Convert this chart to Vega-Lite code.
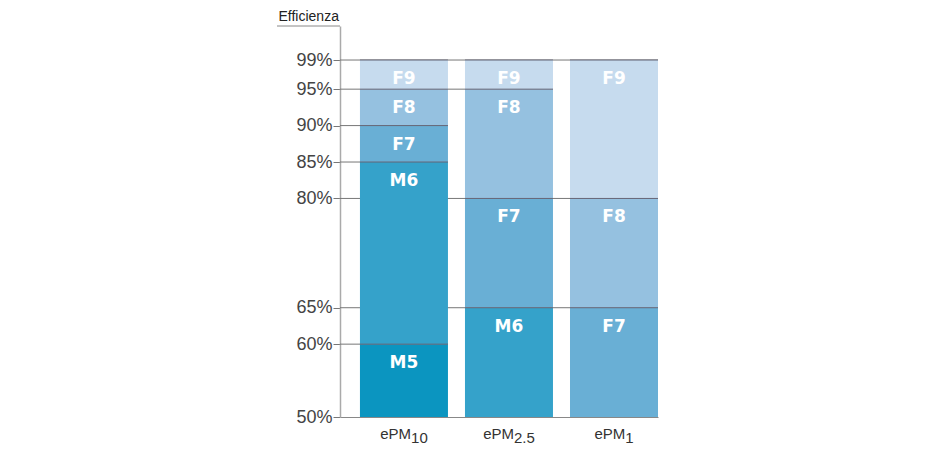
{
  "$schema": "https://vega.github.io/schema/vega-lite/v6.json",
  "autosize": "none",
  "padding": {"left": 340, "top": 26, "right": 292, "bottom": 33},
  "width": 318,
  "height": 391,
  "background": "white",
  "config": {"view": {"stroke": null}, "font": "Liberation Sans"},
  "datasets": {
    "segments": [
      {"filter": "ePM10", "cls": "M5", "lo": 50, "hi": 60},
      {"filter": "ePM10", "cls": "M6", "lo": 60, "hi": 85},
      {"filter": "ePM10", "cls": "F7", "lo": 85, "hi": 90},
      {"filter": "ePM10", "cls": "F8", "lo": 90, "hi": 95},
      {"filter": "ePM10", "cls": "F9", "lo": 95, "hi": 99},
      {"filter": "ePM2.5", "cls": "M6", "lo": 50, "hi": 65},
      {"filter": "ePM2.5", "cls": "F7", "lo": 65, "hi": 80},
      {"filter": "ePM2.5", "cls": "F8", "lo": 80, "hi": 95},
      {"filter": "ePM2.5", "cls": "F9", "lo": 95, "hi": 99},
      {"filter": "ePM1", "cls": "F7", "lo": 50, "hi": 65},
      {"filter": "ePM1", "cls": "F8", "lo": 65, "hi": 80},
      {"filter": "ePM1", "cls": "F9", "lo": 80, "hi": 99}
    ],
    "levels": [
      {"v": 99, "to": "ePM1"},
      {"v": 95, "to": "ePM2.5"},
      {"v": 90, "to": "ePM10"},
      {"v": 85, "to": "ePM10"},
      {"v": 80, "to": "ePM1"},
      {"v": 65, "to": "ePM1"},
      {"v": 60, "to": "ePM10"}
    ],
    "names": [
      {"filter": "ePM10", "main": "ePM", "sub": "10"},
      {"filter": "ePM2.5", "main": "ePM", "sub": "2.5"},
      {"filter": "ePM1", "main": "ePM", "sub": "1"}
    ],
    "title": [{"top": 103.67}]
  },
  "layer": [
    {
      "data": {"name": "levels"},
      "mark": {"type": "rule", "color": "#777", "strokeWidth": 1},
      "encoding": {
        "x": {"field": "to", "type": "nominal", "bandPosition": 1},
        "x2": {"value": 0},
        "y": {"field": "v", "type": "quantitative"}
      }
    },
    {
      "data": {"name": "segments"},
      "mark": {"type": "bar"},
      "encoding": {
        "x": {
          "field": "filter", "type": "nominal",
          "scale": {"domain": ["ePM10", "ePM2.5", "ePM1"], "paddingInner": 0.162, "paddingOuter": 0.095, "align": 1},
          "axis": {"title": null, "ticks": false, "labels": false, "domainColor": "#888", "domainWidth": 1.2}
        },
        "y": {
          "field": "lo", "type": "quantitative",
          "scale": {"domain": [50, 103.67], "nice": false, "zero": false},
          "axis": {
            "values": [50, 60, 65, 80, 85, 90, 95, 99],
            "labelExpr": "datum.value + '%'",
            "grid": false,
            "title": "Efficienza",
            "titleAngle": 0, "titleAlign": "left", "titleBaseline": "middle",
            "titleX": -62, "titleY": -10,
            "titleFontSize": 14, "titleFontWeight": "normal", "titleColor": "#222",
            "domainColor": "#aaa", "domainWidth": 1.5,
            "tickColor": "#777", "tickSize": 7,
            "labelFontSize": 18, "labelColor": "#444", "labelPadding": 1
          }
        },
        "y2": {"field": "hi"},
        "color": {
          "field": "cls", "type": "nominal", "legend": null,
          "scale": {"domain": ["M5", "M6", "F7", "F8", "F9"], "range": ["#0b95c0", "#35a2ca", "#69afd5", "#95c1e0", "#c6dbee"]}
        }
      }
    },
    {
      "data": {"name": "segments"},
      "mark": {"type": "rule", "color": "#667", "strokeWidth": 1},
      "encoding": {
        "x": {"field": "filter", "type": "nominal", "bandPosition": 0},
        "x2": {"field": "filter", "bandPosition": 1},
        "y": {"field": "hi", "type": "quantitative"}
      }
    },
    {
      "data": {"name": "segments"},
      "mark": {"type": "text", "color": "white", "fontWeight": "bold", "fontSize": 17, "dy": 19, "baseline": "middle", "font": "DejaVu Sans"},
      "encoding": {
        "x": {"field": "filter", "type": "nominal"},
        "y": {"field": "hi", "type": "quantitative"},
        "text": {"field": "cls"}
      }
    },
    {
      "data": {"name": "names"},
      "mark": {"type": "text", "color": "#333", "fontSize": 15, "align": "right", "baseline": "alphabetic", "dy": 22,
               "dx": {"expr": "(30.9 - 8.34*length(replace(datum.sub, '.', '')) - 4.17*(length(datum.sub) - length(replace(datum.sub, '.', ''))))/2"}},
      "encoding": {
        "x": {"field": "filter", "type": "nominal"},
        "y": {"datum": 50, "type": "quantitative"},
        "text": {"field": "main"}
      }
    },
    {
      "data": {"name": "names"},
      "mark": {"type": "text", "color": "#333", "fontSize": 15, "align": "left", "baseline": "alphabetic", "dy": 26,
               "dx": {"expr": "(30.9 - 8.34*length(replace(datum.sub, '.', '')) - 4.17*(length(datum.sub) - length(replace(datum.sub, '.', ''))))/2"}},
      "encoding": {
        "x": {"field": "filter", "type": "nominal"},
        "y": {"datum": 50, "type": "quantitative"},
        "text": {"field": "sub"}
      }
    },
    {
      "data": {"name": "title"},
      "mark": {"type": "rule", "color": "#888", "strokeWidth": 1},
      "encoding": {
        "y": {"field": "top", "type": "quantitative"},
        "x": {"value": -63},
        "x2": {"value": 0}
      }
    }
  ]
}
